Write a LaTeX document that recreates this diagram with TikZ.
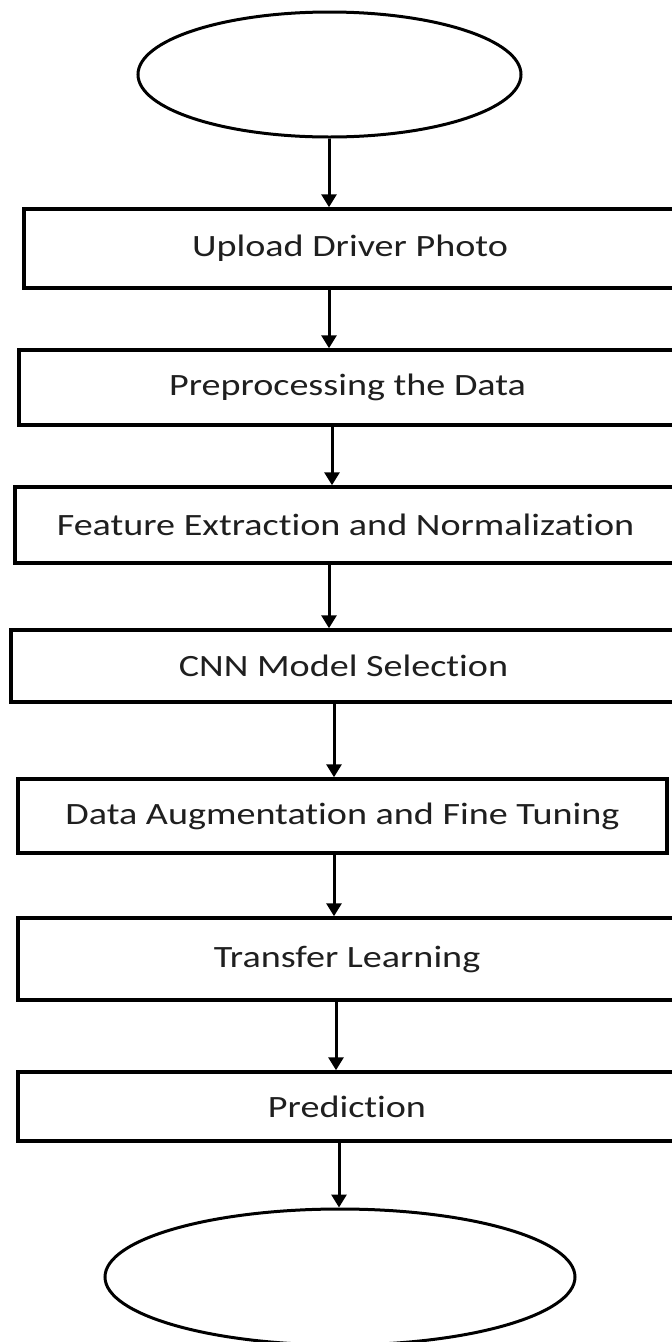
\documentclass[tikz,border=0pt]{standalone}
\usepackage{fontspec}
\setmainfont{Carlito}[FakeStretch=1.23,RawFeature={-liga}]
\usetikzlibrary{shapes.geometric,arrows.meta}
\begin{document}
\begin{tikzpicture}[x=1pt,y=-1pt,
  stepbox/.style={draw, line width=3.5pt, inner sep=0pt, align=center,
    font=\fontsize{31}{36}\selectfont, text=black!88},
  term/.style={draw, ellipse, line width=3pt, inner sep=0pt},
  arr/.style={line width=3pt, -{Triangle[width=15pt,length=13pt]}}]
\useasboundingbox (0,0) rectangle (672,1342);
\fill[white] (0,0) rectangle (672,1342);
% terminals
\node[term, minimum width=383pt, minimum height=125pt] (e1) at (329.5,74.5) {};
\node[term, minimum width=470pt, minimum height=136pt] (e2) at (340,1277) {};
% process boxes
\node[stepbox, minimum width=652pt, minimum height=79pt] (b1) at (350,248.5) {Upload Driver Photo};
\node[stepbox, minimum width=657pt, minimum height=75pt] (b2) at (347.5,387.5) {Preprocessing the Data};
\node[stepbox, minimum width=661pt, minimum height=76pt] (b3) at (345.5,525) {Feature Extraction and Normalization};
\node[stepbox, minimum width=665pt, minimum height=72pt] (b4) at (343.5,666) {CNN Model Selection};
\node[stepbox, minimum width=649pt, minimum height=74pt] (b5) at (342.5,816) {Data Augmentation and Fine Tuning};
\node[stepbox, minimum width=658pt, minimum height=82pt] (b6) at (347,959) {Transfer Learning};
\node[stepbox, minimum width=658pt, minimum height=69pt] (b7) at (347,1106.5) {Prediction};
% arrow columns
\coordinate (c0) at (329,0);
\coordinate (c1) at (329,0);
\coordinate (c2) at (332,0);
\coordinate (c3) at (329,0);
\coordinate (c4) at (334,0);
\coordinate (c5) at (334,0);
\coordinate (c6) at (336,0);
\coordinate (c7) at (339,0);
\draw[arr] (e1.south -| c0) -- (b1.north -| c0);
\draw[arr] (b1.south -| c1) -- (b2.north -| c1);
\draw[arr] (b2.south -| c2) -- (b3.north -| c2);
\draw[arr] (b3.south -| c3) -- (b4.north -| c3);
\draw[arr] (b4.south -| c4) -- (b5.north -| c4);
\draw[arr] (b5.south -| c5) -- (b6.north -| c5);
\draw[arr] (b6.south -| c6) -- (b7.north -| c6);
\draw[arr] (b7.south -| c7) -- (e2.north -| c7);
\end{tikzpicture}
\end{document}
